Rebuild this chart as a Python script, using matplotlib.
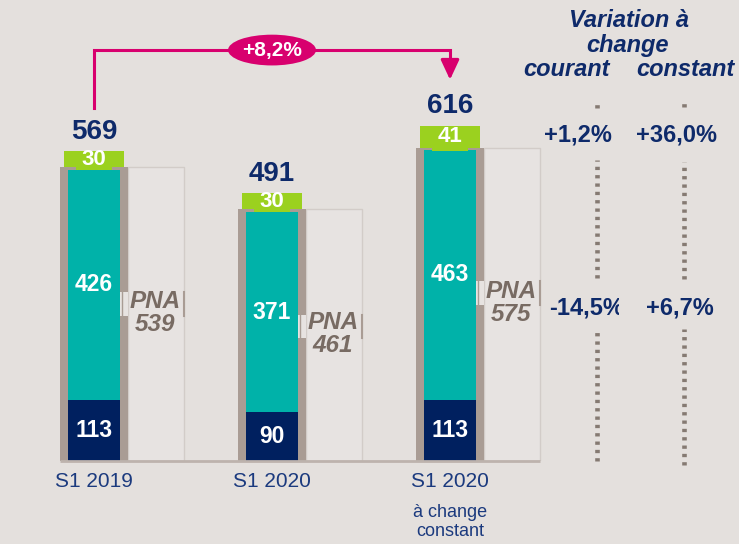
import matplotlib
matplotlib.use('Agg')
import matplotlib.pyplot as plt
from matplotlib.patches import Ellipse, Rectangle
from matplotlib.transforms import Bbox, TransformedBbox

plt.rcParams['font.family'] = ['Liberation Sans', 'DejaVu Sans']

# data
periods = ['S1 2019', 'S1 2020', 'S1 2020']
bottom_vals = [113, 90, 113]      # navy segment
middle_vals = [426, 371, 463]     # teal segment
pna_vals = [539, 461, 575]        # PNA sub-total
cap_vals = [30, 30, 41]           # green cap
totals = [569, 491, 616]
growth_label = '+8,2%'
var_courant = ['+1,2%', '-14,5%']
var_constant = ['+36,0%', '+6,7%']

# colours
bg = '#E4E0DD'
navy = '#00205F'
teal = '#00B2A9'
green = '#9BD11F'
frame = '#A99C94'
txt_navy = '#0E2A6A'
pna_txt = '#786B63'
pink = '#D8006E'
dots = '#857A72'

fig = plt.figure(figsize=(7.39, 5.44), dpi=100, facecolor=bg)
# y scale: ~0.54 px per unit, baseline at 461 px from top
ax = fig.add_axes([0, 83 / 544, 1, 461 / 544])
ax.set_facecolor(bg)
ax.set_xlim(-94 / 178, 645 / 178)
ax.set_ylim(0, 461 / 0.54)
for s in ax.spines.values():
    s.set_visible(False)
ax.set_yticks([])

x = list(range(len(periods)))
pad = 5
w_frame, w_in, w_box = 0.382, 0.292, 0.315

# PNA boxes
box_x = [i + w_frame / 2 + w_box / 2 for i in x]
ax.bar(box_x, [p + pad for p in pna_vals], width=w_box, facecolor='#E7E3E1',
       edgecolor='#D2CCC8', linewidth=1)

# grey frame + stacked bars
ax.bar(x, [p + pad for p in pna_vals], width=w_frame, color=frame)
ax.bar(x, bottom_vals, width=w_in, color=navy)
ax.bar(x, middle_vals, bottom=bottom_vals, width=w_in, color=teal)
ax.bar(x, cap_vals, bottom=[p + pad for p in pna_vals], width=0.337, color=green)
ax.bar(x, [pad + 2] * 3, bottom=pna_vals, width=0.2, color=green)

# baseline
ax.plot([-w_frame / 2, 2 + w_frame / 2 + w_box], [0, 0], color='#BDB3AD',
        lw=2, clip_on=False, solid_capstyle='butt')

for i in x:
    b, m, p, c, t = bottom_vals[i], middle_vals[i], pna_vals[i], cap_vals[i], totals[i]
    ax.text(i, b / 2, str(b), ha='center', va='center', color='white',
            fontsize=16.5, fontweight='bold')
    ax.text(i, b + m / 2, str(m), ha='center', va='center', color='white',
            fontsize=16.5, fontweight='bold')
    ax.text(i, p + pad + c / 2, str(c), ha='center', va='center', color='white',
            fontsize=16, fontweight='bold')
    ax.annotate(str(t), (i, p + pad + c), xytext=(0, 9), textcoords='offset points',
                ha='center', va='baseline', color=txt_navy, fontsize=20,
                fontweight='bold')
    # gap in frame + bracket lines around PNA label
    gy = p * 0.54
    ax.add_patch(Rectangle((i + w_in / 2, gy - 22), (w_frame - w_in) / 2, 44,
                           facecolor='#E7E3E1', edgecolor='none', zorder=3))
    ax.plot([i + w_in / 2 + 0.012] * 2, [gy - 22, gy + 22], color=frame, lw=1, zorder=4)
    ax.plot([box_x[i] + w_box / 2] * 2, [gy - 22, gy + 22], color=frame, lw=1.5, zorder=4)
    ax.text(box_x[i] - 0.005, p * 0.51, 'PNA\n' + str(p), ha='center', va='center',
            color=pna_txt, fontsize=17.5, fontweight='bold', fontstyle='italic',
            linespacing=1.0, zorder=5)

ax.set_xticks(x, periods)
ax.tick_params(axis='x', length=0, pad=8, labelsize=15, labelcolor='#1B3A7E')
ax.text(2, -(522 - 461) / 0.54, 'à change\nconstant', ha='center', va='center',
        fontsize=13, color='#1B3A7E', linespacing=1.2, clip_on=False)

# growth arrow
ax.plot([0, 0, 2, 2], [654, 761, 761, 728], color=pink, lw=2.2,
        solid_joinstyle='miter')
ax.annotate('', xy=(2, 701), xytext=(2, 730),
            arrowprops=dict(arrowstyle='-|>,head_length=0.6,head_width=0.28',
                            mutation_scale=20, color=pink, lw=2.2))
ax.add_patch(Ellipse((1.0, 761), 0.494, 57, facecolor=pink, edgecolor='none', zorder=5))
ax.text(1.0, 761, growth_label, ha='center', va='center', color='white',
        fontsize=15, fontweight='bold', zorder=6)

# variation table
xc, xk = 2.826, 3.315
hdr = dict(ha='center', va='baseline', color=txt_navy, fontsize=17,
           fontweight='bold', fontstyle='italic')
ax.text(3.005, 804, 'Variation à', **hdr)
ax.text(2.995, 757, 'change', **hdr)
ax.text(2.657, 713, 'courant', **hdr)
ax.text(3.32, 713, 'constant', **hdr)

val = dict(ha='center', va='baseline', color=txt_navy, fontsize=17, fontweight='bold')
ax.text(2.72, 591, var_courant[0], **val)
ax.text(3.275, 591, var_constant[0], **val)
t = ax.text(2.77, 272, var_courant[1], **val)
t.set_clip_path(None)
t.set_clip_box(TransformedBbox(Bbox([[2.0, 230], [2.95, 330]]), ax.transData))
t.set_clip_on(True)
ax.text(3.29, 272, var_constant[1], **val)

dot_style = dict(color=dots, lw=3.3, linestyle=(0, (0.72, 1.1)), dash_capstyle='butt')
for xx, segs in [(xc, [(654, 668), (339, 557), (0, 239)]),
                 (xk, [(655, 665), (337, 554), (-7, 244)])]:
    for y0, y1 in segs:
        ax.plot([xx, xx], [y0, y1], clip_on=False, **dot_style)

fig.savefig('out.png', dpi=100, facecolor=bg)
